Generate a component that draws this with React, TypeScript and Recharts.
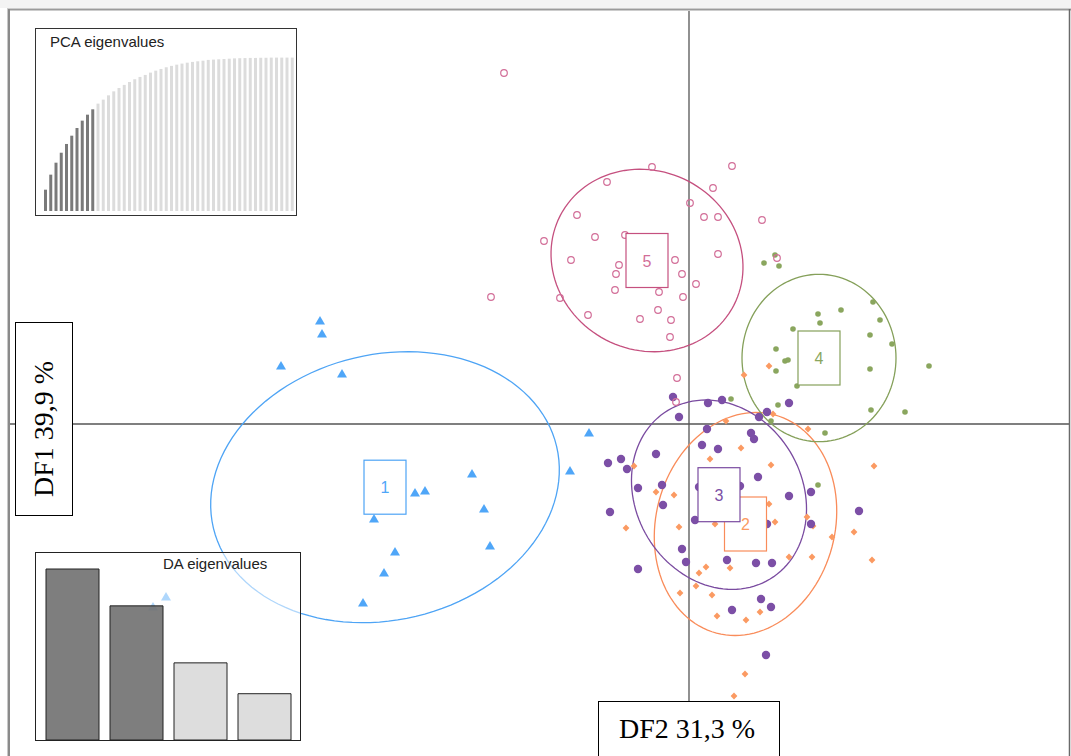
import { Bar, BarChart, Cell, ReferenceLine, Scatter, ScatterChart, XAxis, YAxis } from 'recharts';

// DAPC scores (LD2 on x, LD1 on y), one list per cluster
const cluster1: [number, number][] = [
    [-3.69, 1.03], [-3.67, 0.9], [-4.08, 0.58], [-3.47, 0.5], [-1.0, -0.09], [-1.19, -0.47],
    [-2.17, -0.5], [-2.74, -0.69], [-2.64, -0.67], [-2.05, -0.85], [-3.15, -0.95], [-1.99, -1.22],
    [-2.94, -1.28], [-3.05, -1.49], [-3.26, -1.79], [-5.23, -1.73], [-5.36, -1.83],
];
const cluster2: [number, number][] = [
    [0.37, 0.03], [1.19, -0.05], [0.52, -0.24], [0.21, -0.35], [0.82, -0.41], [-0.55, -0.42],
    [1.85, -0.42], [-0.33, -0.68], [-0.15, -0.71], [0.8, -0.8], [1.18, -0.93], [-0.63, -1.04],
    [-0.1, -1.03], [0.26, -1.0], [0.86, -0.98], [1.24, -1.02], [1.43, -1.13], [1.65, -1.08],
    [1.0, -1.33], [1.23, -1.33], [1.83, -1.36], [0.17, -1.43], [0.1, -1.49], [0.41, -1.44],
    [0.07, -1.62], [-0.09, -1.69], [0.23, -1.71], [0.28, -1.92], [0.57, -1.96], [0.71, -1.88],
    [0.56, -2.5], [0.45, -2.72], [0.84, 0.1], [0.8, 0.58], [0.55, 0.49],
];
const cluster3: [number, number][] = [
    [-0.16, 0.27], [0.19, 0.21], [0.33, 0.24], [1.0, 0.21], [0.7, 0.07], [0.78, 0.12],
    [-0.1, 0.07], [0.18, -0.05], [0.62, -0.09], [0.65, -0.15], [0.13, -0.21], [0.29, -0.25],
    [-0.33, -0.3], [-0.81, -0.39], [-0.68, -0.35], [-0.62, -0.45], [0.69, -0.53], [-0.51, -0.64],
    [-0.27, -0.61], [0.1, -0.63], [0.51, -0.62], [1.0, -0.72], [1.22, -0.68], [-0.26, -0.81],
    [-0.79, -0.88], [0.06, -0.96], [0.78, -1.0], [1.22, -1.0], [1.7, -0.87], [-0.07, -1.25],
    [-0.03, -1.38], [0.38, -1.36], [0.67, -1.39], [0.83, -1.39], [-0.51, -1.45], [0.72, -1.75],
    [0.82, -1.83], [0.43, -1.86], [0.77, -2.31],
];
const cluster4: [number, number][] = [
    [0.86, 1.69], [0.75, 1.61], [0.9, 1.58], [1.84, 1.22], [1.29, 1.1], [1.52, 1.14],
    [1.91, 1.04], [1.31, 1.01], [1.04, 0.95], [1.81, 0.89], [2.03, 0.8], [0.87, 0.75],
    [0.96, 0.63], [0.99, 0.64], [0.87, 0.53], [1.81, 0.55], [2.4, 0.58], [1.08, 0.38],
    [0.89, 0.19], [1.82, 0.14], [2.16, 0.12], [1.36, -0.09], [0.82, 0.03], [0.42, 0.25],
    [1.29, -0.61],
];
const cluster5: [number, number][] = [
    [-1.85, 3.51], [-0.37, 2.57], [0.43, 2.58], [-0.82, 2.42], [0.24, 2.36], [0.01, 2.21],
    [0.73, 2.04], [-1.12, 2.09], [0.15, 2.07], [0.29, 2.07], [-0.94, 1.87], [-0.64, 1.89],
    [-1.45, 1.83], [-1.18, 1.64], [-0.14, 1.64], [0.29, 1.7], [-0.7, 1.59], [-0.73, 1.5],
    [-0.07, 1.5], [0.07, 1.4], [-0.74, 1.34], [-0.3, 1.32], [-0.06, 1.27], [-1.98, 1.27],
    [-1.29, 1.26], [-1.01, 1.09], [-0.31, 1.14], [-0.49, 1.05], [-0.18, 1.04], [-0.19, 0.87],
    [0.88, 1.66], [-0.12, 0.46], [-0.13, 0.22],
];

// centroid x, y and inertia ellipse: semi-axes a, b and angle (deg)
const clusterLabels = ['1', '2', '3', '4', '5'];
const centroidX = [-3.04, 0.565, 0.3, 1.3, -0.42];
const centroidY = [-0.632, -1.0, -0.707, 0.66, 1.635];
const ellipseA = [1.764, 1.129, 0.986, 0.837, 0.977];
const ellipseB = [1.328, 0.895, 0.831, 0.77, 0.894];
const ellipseAngle = [13.4, 75.1, -58.8, 90, -27.5];

const pcaCumVar = [
    13.9, 23.7, 31.5, 38.0, 43.7, 49.1, 54.1, 58.9, 62.8, 66.3, 70.0, 72.6, 75.4, 78.0, 80.2, 82.2,
    84.1, 85.9, 87.4, 88.7, 90.2, 91.5, 92.6, 93.7, 94.6, 95.4, 96.1, 96.7, 97.2, 97.6, 98.0, 98.5,
    98.7, 98.9, 99.1, 99.3, 99.5, 99.6, 99.7, 99.8, 99.8, 99.9, 99.9, 100, 100, 100, 100, 100,
];
const pcaRetained = 10;
const daEigen = [39.9, 31.3, 18.0, 10.8];
const daRetained = 2;

const colors = ['#4fa6f8', '#fb9a62', '#7c4fa6', '#8aa65e', '#d26e98'];
const ellipseColors = ['#4ea4f5', '#f98c5a', '#7a4ba0', '#85a05a', '#c5507f'];

const toPts = (arr: [number, number][]) => arr.map(([x, y]) => ({ x, y }));

function ellipsePath(i: number) {
    const th = (ellipseAngle[i] * Math.PI) / 180;
    const pts = [];
    for (let k = 0; k <= 120; k++) {
        const t = (k / 120) * 2 * Math.PI;
        const ca = ellipseA[i] * Math.cos(t);
        const sb = ellipseB[i] * Math.sin(t);
        pts.push({ x: centroidX[i] + ca * Math.cos(th) - sb * Math.sin(th), y: centroidY[i] + ca * Math.sin(th) + sb * Math.cos(th) });
    }
    return pts;
}

const Triangle = (p: any) => (
    <polygon points={`${p.cx},${p.cy - 5} ${p.cx - 5},${p.cy + 3.5} ${p.cx + 5},${p.cy + 3.5}`} fill={colors[0]} />
);
const Diamond = (p: any) => (
    <polygon points={`${p.cx},${p.cy - 3.4} ${p.cx + 3.4},${p.cy} ${p.cx},${p.cy + 3.4} ${p.cx - 3.4},${p.cy}`} fill={colors[1]} />
);
const BigDot = (p: any) => <circle cx={p.cx} cy={p.cy} r={4.2} fill={colors[2]} />;
const SmallDot = (p: any) => <circle cx={p.cx} cy={p.cy} r={2.8} fill={colors[3]} />;
const OpenDot = (p: any) => <circle cx={p.cx} cy={p.cy} r={3.3} fill="none" stroke={colors[4]} strokeWidth={1.2} />;
const shapes = [Triangle, Diamond, BigDot, SmallDot, OpenDot];
const clusters = [cluster1, cluster2, cluster3, cluster4, cluster5];

const makeBox = (i: number) => (p: any) => (
    <g>
        <rect x={p.cx - 21} y={p.cy - 27} width={42} height={54} fill="#fff" stroke={ellipseColors[i]} strokeWidth={1.2} />
        <text x={p.cx} y={p.cy + 6} textAnchor="middle" fontSize={16} fontFamily="Liberation Sans, Arial" fill={colors[i]}>
            {clusterLabels[i]}
        </text>
    </g>
);

const sans = 'Liberation Sans, Arial, sans-serif';
const serif = 'Liberation Serif, Times New Roman, serif';

export default function App() {
    const pcaData = pcaCumVar.map((v, i) => ({ pc: i + 1, v }));
    const daData = daEigen.map((v, i) => ({ df: i + 1, v }));
    return (
        <div style={{ position: 'absolute', left: 0, top: 0, width: 1071, height: 756, background: '#fff', overflow: 'hidden' }}>
            <div style={{ position: 'absolute', left: 10, top: 11 }}>
                <ScatterChart width={1059} height={745} margin={{ top: 0, right: 0, bottom: 0, left: 0 }}>
                    <XAxis type="number" dataKey="x" domain={[-6.79, 3.8]} hide height={0} allowDataOverflow />
                    <YAxis type="number" dataKey="y" domain={[-3.32, 4.13]} hide width={0} allowDataOverflow />
                    <ReferenceLine x={0} stroke="#555" strokeWidth={1.3} />
                    <ReferenceLine y={0} stroke="#555" strokeWidth={1.3} />
                    {clusters.map((c, i) => (
                        <Scatter key={'e' + i} data={ellipsePath(i)} line={{ stroke: ellipseColors[i], strokeWidth: 1.3 }} shape={() => <g />} isAnimationActive={false} />
                    ))}
                    {clusters.map((c, i) => (
                        <Scatter key={'p' + i} data={toPts(c)} shape={shapes[i]} isAnimationActive={false} />
                    ))}
                    {clusters.map((c, i) => (
                        <Scatter key={'b' + i} data={[{ x: centroidX[i], y: centroidY[i] }]} shape={makeBox(i)} isAnimationActive={false} />
                    ))}
                </ScatterChart>
            </div>

            {/* PCA eigenvalues inset */}
            <div style={{ position: 'absolute', left: 35, top: 28, width: 262, height: 188, border: '1px solid #333', background: '#fff', boxSizing: 'border-box' }} />
            <div style={{ position: 'absolute', left: 43, top: 28 }}>
                <BarChart width={252} height={183} data={pcaData} margin={{ top: 0, right: 0, bottom: 0, left: 0 }}>
                    <XAxis dataKey="pc" hide height={0} />
                    <YAxis hide width={0} domain={[0, 119.3]} />
                    <Bar dataKey="v" barSize={3} isAnimationActive={false}>
                        {pcaData.map((d, i) => (
                            <Cell key={i} fill={i < pcaRetained ? '#7a7a7a' : '#dcdcdc'} />
                        ))}
                    </Bar>
                </BarChart>
            </div>

            {/* DA eigenvalues inset */}
            <div style={{ position: 'absolute', left: 35, top: 552, width: 266, height: 189, border: '1px solid #222', background: 'rgba(255,255,255,0.55)', boxSizing: 'border-box' }} />
            <div style={{ position: 'absolute', left: 40, top: 552 }}>
                <BarChart width={256} height={188} data={daData} margin={{ top: 0, right: 0, bottom: 0, left: 0 }}>
                    <XAxis dataKey="df" hide height={0} />
                    <YAxis hide width={0} domain={[0, 43.87]} />
                    <Bar dataKey="v" barSize={53} stroke="#222" strokeWidth={1} isAnimationActive={false}>
                        {daData.map((d, i) => (
                            <Cell key={i} fill={i < daRetained ? '#707070' : '#d9d9d9'} fillOpacity={0.9} />
                        ))}
                    </Bar>
                </BarChart>
            </div>

            <svg width={1071} height={756} style={{ position: 'absolute', left: 0, top: 0, pointerEvents: 'none' }}>
                <rect x={0} y={0} width={1071} height={8} fill="#f3f3f3" />
                <line x1={7} y1={9.5} x2={1071} y2={9.5} stroke="#9a9a9a" strokeWidth={2} />
                <line x1={7.5} y1={9} x2={7.5} y2={756} stroke="#c8c8c8" strokeWidth={1} />
                <line x1={9} y1={9} x2={9} y2={756} stroke="#8a8a8a" strokeWidth={2} />
                <line x1={1069.5} y1={9} x2={1069.5} y2={756} stroke="#6a6a6a" strokeWidth={1.5} />

                <text x={50} y={47} fontSize={15} fontFamily={sans} fill="#222">PCA eigenvalues</text>
                <text x={163} y={569} fontSize={15} fontFamily={sans} fill="#222">DA eigenvalues</text>

                <rect x={15.5} y={322.5} width={57} height={193} fill="#fff" stroke="#000" strokeWidth={1} />
                <text x={53} y={429} transform="rotate(-90 53 429)" textAnchor="middle" fontSize={28} fontFamily={serif} fill="#000">
                    DF1 39,9 %
                </text>
                <rect x={598.5} y={701.5} width={181} height={60} fill="#fff" stroke="#000" strokeWidth={1} />
                <text x={687} y={738} textAnchor="middle" fontSize={28} fontFamily={serif} fill="#000">
                    DF2 31,3 %
                </text>
            </svg>
        </div>
    );
}
